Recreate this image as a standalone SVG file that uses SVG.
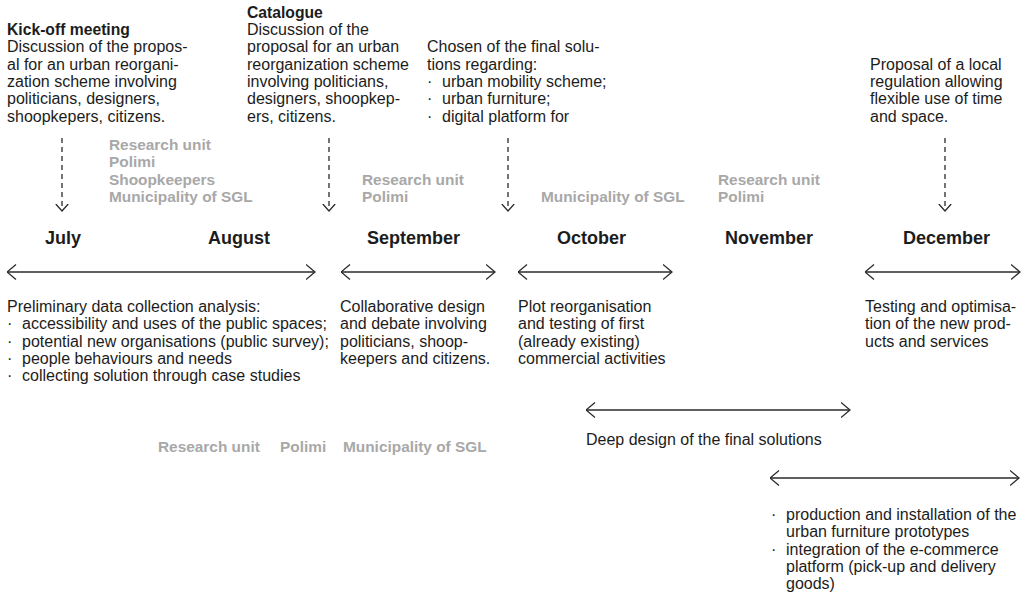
<svg xmlns="http://www.w3.org/2000/svg" width="1031" height="592" viewBox="0 0 1031 592">
<style>
text{font-family:"Liberation Sans",Arial,sans-serif;}
.b{font-size:16px;fill:#1c1c1c;}
.h{font-size:15.7px;font-weight:bold;fill:#1c1c1c;}
.m{font-size:18px;font-weight:bold;fill:#1c1c1c;}
.g{font-size:15.4px;font-weight:bold;fill:#a8a8a8;}
.ln{stroke:#2a2a2a;stroke-width:1.3;fill:none;}
.ds{stroke:#2a2a2a;stroke-width:1.3;fill:none;stroke-dasharray:5 4;}
</style>
<defs>
<marker id="chev" viewBox="0 0 10 16" refX="9.5" refY="8" markerWidth="10" markerHeight="16" markerUnits="userSpaceOnUse" orient="auto-start-reverse">
<path d="M0.5,0.5 L9.5,8 L0.5,15.5" fill="none" stroke="#2a2a2a" stroke-width="1.3"/>
</marker>
<marker id="dchev" viewBox="0 0 8 14" refX="7.5" refY="7" markerWidth="8" markerHeight="14" markerUnits="userSpaceOnUse" orient="auto">
<path d="M0.5,0.8 L7.5,7 L0.5,13.2" fill="none" stroke="#2a2a2a" stroke-width="1.3"/>
</marker>
</defs>

<g id="connectors">
<line class="ds" x1="62" y1="138" x2="62" y2="211" marker-end="url(#dchev)"/>
<line class="ds" x1="329" y1="138" x2="329" y2="211" marker-end="url(#dchev)"/>
<line class="ds" x1="508" y1="138" x2="508" y2="211" marker-end="url(#dchev)"/>
<line class="ds" x1="945" y1="138" x2="945" y2="211" marker-end="url(#dchev)"/>
<line class="ln" x1="7" y1="272" x2="315" y2="272" marker-start="url(#chev)" marker-end="url(#chev)"/>
<line class="ln" x1="341" y1="272" x2="495" y2="272" marker-start="url(#chev)" marker-end="url(#chev)"/>
<line class="ln" x1="518" y1="272" x2="672" y2="272" marker-start="url(#chev)" marker-end="url(#chev)"/>
<line class="ln" x1="865" y1="272" x2="1020" y2="272" marker-start="url(#chev)" marker-end="url(#chev)"/>
<line class="ln" x1="586" y1="410" x2="850" y2="410" marker-start="url(#chev)" marker-end="url(#chev)"/>
<line class="ln" x1="770" y1="478" x2="1019" y2="478" marker-start="url(#chev)" marker-end="url(#chev)"/>
</g>

<g id="kickoff">
<text class="h" x="7" y="35">Kick-off meeting</text>
<text class="b" x="7" y="52.3">Discussion of the propos-</text>
<text class="b" x="7" y="69.7">al for an urban reorgani-</text>
<text class="b" x="7" y="87">zation scheme involving</text>
<text class="b" x="7" y="104.3">politicians, designers,</text>
<text class="b" x="7" y="121.7">shoopkepers, citizens.</text>
</g>

<g id="catalogue">
<text class="h" x="247" y="18">Catalogue</text>
<text class="b" x="247" y="35">Discussion of the</text>
<text class="b" x="247" y="52.3">proposal for an urban</text>
<text class="b" x="247" y="69.7">reorganization scheme</text>
<text class="b" x="247" y="87">involving politicians,</text>
<text class="b" x="247" y="104.3">designers, shoopkep-</text>
<text class="b" x="247" y="121.7">ers, citizens.</text>
</g>

<g id="chosen">
<text class="b" x="427" y="52.3">Chosen of the final solu-</text>
<text class="b" x="427" y="69.7">tions regarding:</text>
<text class="b" x="427" y="87">·</text><text class="b" x="442" y="87">urban mobility scheme;</text>
<text class="b" x="427" y="104.3">·</text><text class="b" x="442" y="104.3">urban furniture;</text>
<text class="b" x="427" y="121.7">·</text><text class="b" x="442" y="121.7">digital platform for</text>
</g>

<g id="regulation">
<text class="b" x="870" y="69.7">Proposal of a local</text>
<text class="b" x="870" y="87">regulation allowing</text>
<text class="b" x="870" y="104.3">flexible use of time</text>
<text class="b" x="870" y="121.7">and space.</text>
</g>

<g id="actors-1">
<text class="g" x="109" y="150">Research unit</text>
<text class="g" x="109" y="167.3">Polimi</text>
<text class="g" x="109" y="184.7">Shoopkeepers</text>
<text class="g" x="109" y="202">Municipality of SGL</text>
</g>
<g id="actors-2">
<text class="g" x="362" y="185">Research unit</text>
<text class="g" x="362" y="202">Polimi</text>
</g>
<g id="actors-3">
<text class="g" x="541" y="202">Municipality of SGL</text>
</g>
<g id="actors-4">
<text class="g" x="718" y="185">Research unit</text>
<text class="g" x="718" y="202">Polimi</text>
</g>

<g id="months">
<text class="m" x="45" y="244">July</text>
<text class="m" x="208" y="244">August</text>
<text class="m" x="367" y="244">September</text>
<text class="m" x="557" y="244">October</text>
<text class="m" x="725" y="244">November</text>
<text class="m" x="903" y="244">December</text>
</g>

<g id="preliminary">
<text class="b" x="7" y="312">Preliminary data collection analysis:</text>
<text class="b" x="7" y="329.3">·</text><text class="b" x="22" y="329.3">accessibility and uses of the public spaces;</text>
<text class="b" x="7" y="346.7">·</text><text class="b" x="22" y="346.7">potential new organisations (public survey);</text>
<text class="b" x="7" y="364">·</text><text class="b" x="22" y="364">people behaviours and needs</text>
<text class="b" x="7" y="381.3">·</text><text class="b" x="22" y="381.3">collecting solution through case studies</text>
</g>

<g id="collaborative">
<text class="b" x="340" y="312">Collaborative design</text>
<text class="b" x="340" y="329.3">and debate involving</text>
<text class="b" x="340" y="346.7">politicians, shoop-</text>
<text class="b" x="340" y="364">keepers and citizens.</text>
</g>

<g id="plot">
<text class="b" x="518" y="312">Plot reorganisation</text>
<text class="b" x="518" y="329.3">and testing of first</text>
<text class="b" x="518" y="346.7">(already existing)</text>
<text class="b" x="518" y="364">commercial activities</text>
</g>

<g id="testing">
<text class="b" x="865" y="312">Testing and optimisa-</text>
<text class="b" x="865" y="329.3">tion of the new prod-</text>
<text class="b" x="865" y="346.7">ucts and services</text>
</g>

<g id="deep-design">
<text class="b" x="586" y="445">Deep design of the final solutions</text>
</g>

<g id="actors-5">
<text class="g" x="158" y="452">Research unit</text>
<text class="g" x="280" y="452">Polimi</text>
<text class="g" x="343" y="452">Municipality of SGL</text>
</g>

<g id="production">
<text class="b" x="771" y="520">·</text><text class="b" x="786" y="520">production and installation of the</text>
<text class="b" x="786" y="537.3">urban furniture prototypes</text>
<text class="b" x="771" y="554.7">·</text><text class="b" x="786" y="554.7">integration of the e-commerce</text>
<text class="b" x="786" y="572">platform (pick-up and delivery</text>
<text class="b" x="786" y="589.3">goods)</text>
</g>
</svg>
